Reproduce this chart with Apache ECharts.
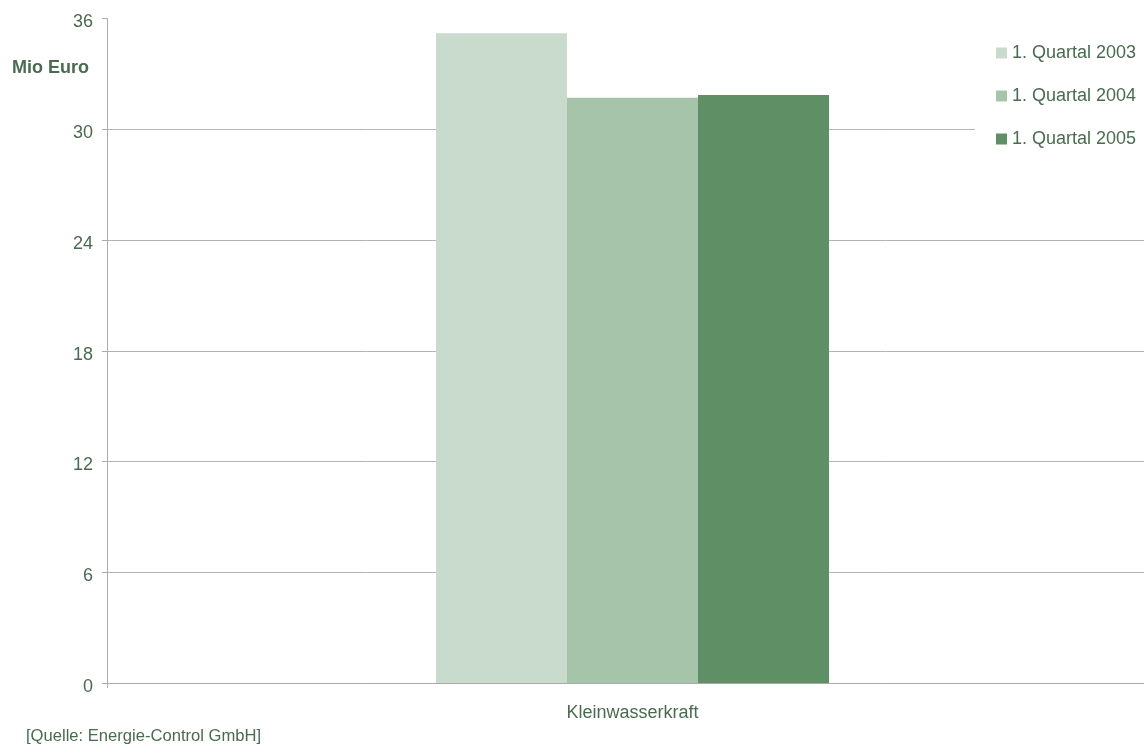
<!DOCTYPE html>
<html>
<head>
<meta charset="utf-8">
<script src="https://cdn.jsdelivr.net/npm/echarts@6/dist/echarts.min.js"></script>
<style>html,body{margin:0;padding:0;background:#fff}#c{width:1144px;height:744px}</style>
</head>
<body>
<div id="c"></div>
<script>
const categories = ['Kleinwasserkraft'];
const seriesNames = ['1. Quartal 2003', '1. Quartal 2004', '1. Quartal 2005'];
const values2003 = [35.2];
const values2004 = [31.7];
const values2005 = [31.85];
const yTicks = [0, 6, 12, 18, 24, 30, 36];

const colors = ['#c8dbcc', '#a5c4a9', '#5f8f65'];
const textColor = '#4a6b4f';
const font = 'Liberation Sans, Arial, sans-serif';

const chart = echarts.init(document.getElementById('c'));
chart.setOption({
  animation: false,
  backgroundColor: '#fff',
  textStyle: { fontFamily: font },
  grid: { left: 107, right: -14, top: 18.5, bottom: 61, containLabel: false, outerBoundsMode: 'none' },
  legend: {
    orient: 'vertical',
    left: 975, top: 36,
    padding: [8, 10, 8, 21],
    backgroundColor: '#fff',
    itemWidth: 11, itemHeight: 11,
    itemGap: 25,
    icon: 'rect',
    textStyle: { color: textColor, fontSize: 18, lineHeight: 18, fontFamily: font },
    data: seriesNames
  },
  xAxis: {
    type: 'category',
    data: categories,
    axisLine: { lineStyle: { color: '#aaaaaa' } },
    axisTick: { show: true, length: 5, lineStyle: { color: '#aaaaaa' } },
    axisLabel: { color: textColor, fontSize: 18, margin: 21, fontFamily: font }
  },
  yAxis: {
    type: 'value',
    min: yTicks[0], max: yTicks[yTicks.length - 1], interval: 6,
    axisLine: { show: true, lineStyle: { color: '#aaaaaa' } },
    axisTick: { show: true, length: 5, lineStyle: { color: '#aaaaaa' } },
    axisLabel: {
      color: textColor, fontSize: 18, margin: 14, fontFamily: font,
      formatter: '{a|{value}}',
      rich: { a: { color: textColor, fontSize: 18, fontFamily: font, padding: [8, 0, 0, 0] } }
    },
    splitLine: { showMaxLine: false, lineStyle: { color: '#b5b5b5' } }
  },
  graphic: [
    { type: 'text', left: 12, top: 59, style: { text: 'Mio Euro', fill: textColor, font: 'bold 18px ' + font } },
    { type: 'text', left: 26, top: 728, style: { text: '[Quelle: Energie-Control GmbH]', fill: textColor, font: '16.6px ' + font } }
  ],
  series: [
    { name: seriesNames[0], type: 'bar', data: values2003, barWidth: 131, barGap: '0%', itemStyle: { color: colors[0] } },
    { name: seriesNames[1], type: 'bar', data: values2004, barWidth: 131, barGap: '0%', itemStyle: { color: colors[1] } },
    { name: seriesNames[2], type: 'bar', data: values2005, barWidth: 131, barGap: '0%', itemStyle: { color: colors[2] } }
  ]
});
</script>
</body>
</html>
